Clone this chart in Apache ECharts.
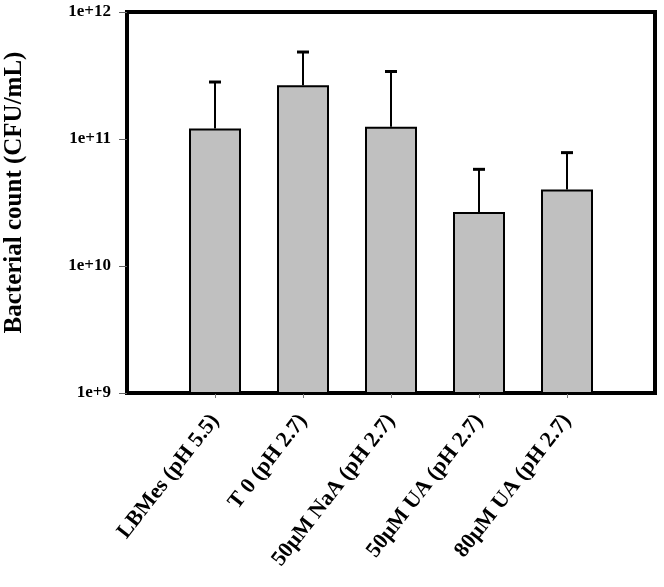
<!DOCTYPE html>
<html>
<head>
<meta charset="utf-8">
<script src="https://cdn.jsdelivr.net/npm/echarts@6/dist/echarts.min.js"></script>
<style>html,body{margin:0;padding:0;background:#fff}#c{width:664px;height:587px}</style>
</head>
<body>
<div id="c"></div>
<script>
// Data
const categories = ['', 'LBMes (pH 5.5)', 'T 0 (pH 2.7)', '50μM NaA (pH 2.7)', '50μM UA (pH 2.7)', '80μM UA (pH 2.7)', ''];
const means = [null, 1.21e11, 2.65e11, 1.25e11, 2.66e10, 4.0e10, null];
const upperErr = [null, 2.81e11, 4.84e11, 3.40e11, 5.77e10, 7.81e10, null];
const yTickLabels = ['1e+9', '1e+10', '1e+11', '1e+12'];
const yTitle = 'Bacterial count (CFU/mL)';

const FONT = '"Liberation Serif", "Times New Roman", serif';
const chart = echarts.init(document.getElementById('c'));
const errData = [];
for (let i = 0; i < categories.length; i++) {
  if (means[i] != null) errData.push([i, means[i], upperErr[i]]);
}
chart.setOption({
  animation: false,
  grid: { left: 127, right: 9, top: 12, bottom: 194, show: true, borderColor: '#000', borderWidth: 4, backgroundColor: '#fff', containLabel: false, outerBoundsMode: 'none' },
  xAxis: {
    type: 'category',
    data: categories,
    boundaryGap: false,
    axisLine: { lineStyle: { color: '#000', width: 4 } },
    axisTick: { show: true, length: 5, lineStyle: { color: '#777', width: 1 }, interval: (i) => i > 0 && i < categories.length - 1 },
    axisLabel: { rotate: 52, interval: 0, margin: 24, fontFamily: FONT, fontWeight: 'bold', fontSize: 22, color: '#000' },
    splitLine: { show: false }
  },
  yAxis: {
    type: 'log',
    logBase: 10,
    min: 1e9,
    max: 1e12,
    name: yTitle,
    nameLocation: 'middle',
    nameGap: 100,
    nameTextStyle: { fontFamily: FONT, fontWeight: 'bold', fontSize: 25, color: '#000', padding: [0, 0, 0, 20] },
    axisLine: { show: true, lineStyle: { color: '#000', width: 4 } },
    axisTick: { show: true, length: 8, lineStyle: { color: '#666', width: 1 } },
    minorTick: { show: false },
    splitLine: { show: false },
    axisLabel: {
      margin: 16,
      fontFamily: FONT, fontWeight: 'bold', fontSize: 17, color: '#000',
      formatter: (v) => yTickLabels[Math.round(Math.log10(v)) - 9] || ''
    }
  },
  series: [
    {
      type: 'bar',
      data: means,
      barWidth: 52,
      itemStyle: { color: '#c0c0c0', borderColor: '#000', borderWidth: 2 },
      z: 2
    },
    {
      type: 'custom',
      data: errData,
      z: 3,
      renderItem: function (params, api) {
        const x = api.value(0);
        const top = api.coord([x, api.value(1)]);
        const up = api.coord([x, api.value(2)]);
        return {
          type: 'group',
          children: [
            { type: 'line', shape: { x1: top[0], y1: top[1], x2: up[0], y2: up[1] }, style: { stroke: '#000', lineWidth: 2 } },
            { type: 'line', shape: { x1: up[0] - 6, y1: up[1], x2: up[0] + 6, y2: up[1] }, style: { stroke: '#000', lineWidth: 3 } }
          ]
        };
      }
    }
  ]
});
</script>
</body>
</html>
